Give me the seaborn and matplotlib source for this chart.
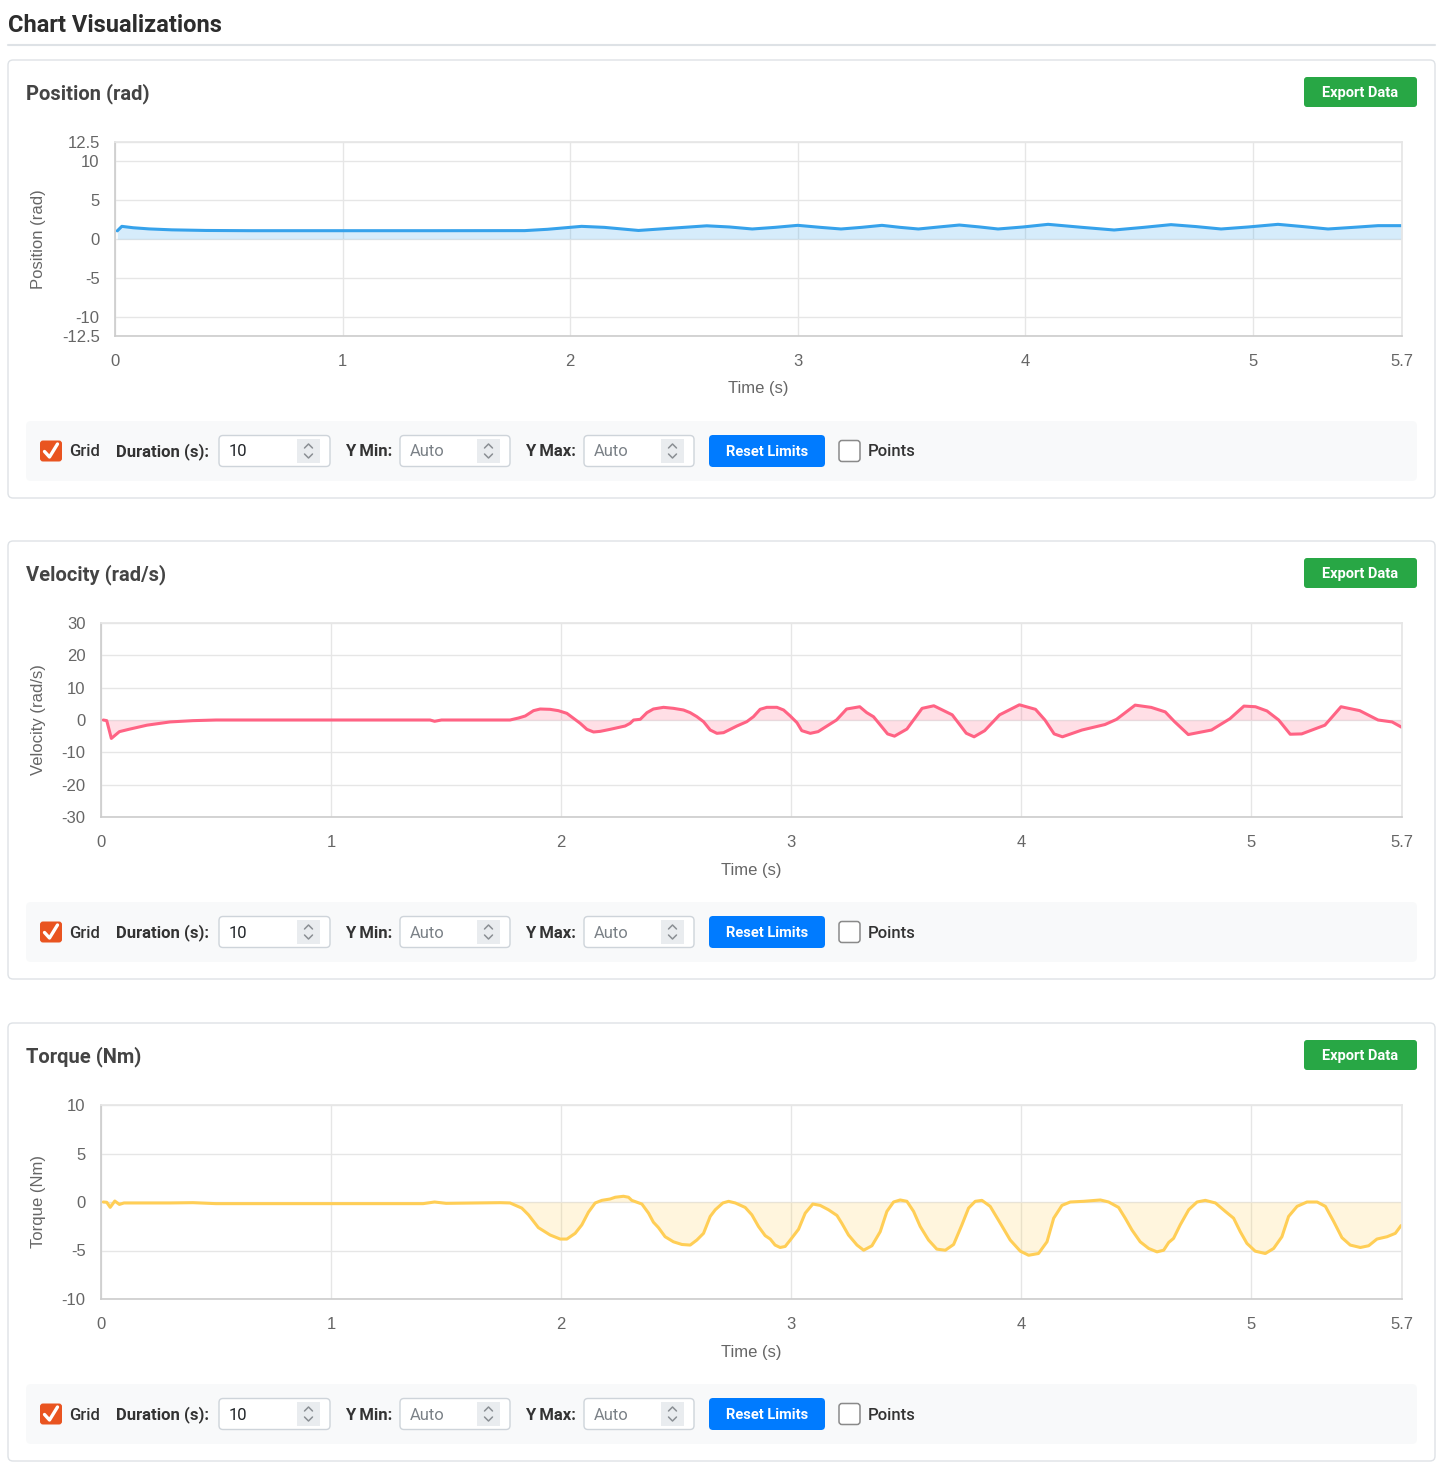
import matplotlib
matplotlib.use("Agg")
import matplotlib.pyplot as plt
from matplotlib.patches import FancyBboxPatch, Rectangle
import seaborn as sns

W, H = 1450, 1476

# ---- data ----
pos_time = [0.01, 0.03, 0.08, 0.15, 0.25, 0.4, 0.6, 1.0, 1.4, 1.8, 1.9, 2.05, 2.15, 2.3,
            2.45, 2.6, 2.7, 2.8, 2.9, 3.0, 3.1, 3.19, 3.28, 3.37, 3.45, 3.53, 3.62, 3.71,
            3.8, 3.88, 3.99, 4.1, 4.25, 4.39, 4.52, 4.64, 4.75, 4.86, 4.98, 5.11, 5.22,
            5.33, 5.44, 5.55, 5.655]
pos_val = [1.05, 1.63, 1.45, 1.3, 1.18, 1.1, 1.07, 1.07, 1.07, 1.08, 1.25, 1.63, 1.5, 1.1,
           1.4, 1.7, 1.55, 1.29, 1.5, 1.76, 1.5, 1.29, 1.5, 1.76, 1.5, 1.29, 1.55, 1.8,
           1.55, 1.29, 1.55, 1.89, 1.5, 1.16, 1.5, 1.85, 1.6, 1.29, 1.55, 1.89, 1.6,
           1.29, 1.5, 1.72, 1.72]

vel_time = [0.01, 0.025, 0.045, 0.08, 0.12, 0.2, 0.3, 0.4, 0.5, 1.0, 1.43, 1.45, 1.48,
            1.735, 1.778, 1.815, 1.844, 1.88, 1.909, 1.952, 1.988, 2.025, 2.054, 2.083,
            2.112, 2.141, 2.17, 2.213, 2.278, 2.3, 2.315, 2.344, 2.373, 2.401, 2.445,
            2.488, 2.532, 2.561, 2.59, 2.619, 2.648, 2.677, 2.706, 2.764, 2.807, 2.836,
            2.865, 2.894, 2.938, 2.967, 2.996, 3.025, 3.046, 3.083,
            3.117, 3.197, 3.241, 3.298, 3.328, 3.358, 3.419, 3.449, 3.503, 3.569, 3.62,
            3.7, 3.761, 3.795, 3.841, 3.906, 3.992, 4.062, 4.103, 4.143, 4.179, 4.264,
            4.364, 4.414, 4.495, 4.565, 4.626, 4.666, 4.726, 4.827, 4.907, 4.968, 5.018,
            5.068, 5.119, 5.169, 5.219, 5.32, 5.39, 5.471, 5.551, 5.612, 5.655]
vel_val = [0.0, -0.2, -5.7, -3.6, -2.9, -1.6, -0.6, -0.2, 0.0, 0.0, 0.0, -0.4, 0.0,
           0.0, 0.0, 0.62, 1.24, 2.89, 3.4, 3.3, 2.89, 2.06, 0.52, -1.03,
           -2.89, -3.71, -3.51, -2.89, -1.86, -1.03, 0.0, 0.21, 2.27, 3.4, 3.92,
           3.61, 3.09, 2.27, 1.03, -0.52, -3.09, -4.12, -3.92, -1.86, -0.52, 1.03,
           3.3, 3.92, 3.92, 3.09, 1.24, -0.82, -3.3, -4.12,
           -3.6, 0.0, 3.4, 4.1, 2.3, 1.0, -4.3, -5.0, -2.8, 3.6, 4.4,
           1.6, -4.1, -5.2, -3.3, 1.6, 4.7, 3.3, 0.0, -4.3, -5.2, -3.1,
           -1.4, 0.2, 4.6, 3.9, 2.5, -0.5, -4.5, -3.1, 0.4, 4.3, 4.1,
           2.8, 0.0, -4.4, -4.3, -1.6, 4.1, 2.9, 0.0, -0.6, -2.3]

trq_time = [0.01, 0.025, 0.04, 0.06, 0.08, 0.1, 0.3, 0.4, 0.5, 1.0, 1.4, 1.45, 1.5,
            1.735, 1.778, 1.829, 1.858, 1.901, 1.952, 1.996, 2.025, 2.061, 2.09, 2.119,
            2.148, 2.177, 2.213, 2.235, 2.271, 2.293, 2.307, 2.351, 2.38, 2.401, 2.423,
            2.452, 2.488, 2.525, 2.561, 2.59, 2.619, 2.648, 2.67, 2.703, 2.728, 2.757,
            2.8, 2.829, 2.858, 2.887, 2.909, 2.93, 2.952, 2.974, 2.996, 3.032,
            3.061, 3.094, 3.126, 3.162, 3.199, 3.22, 3.249, 3.286, 3.315, 3.351, 3.387,
            3.416, 3.445, 3.474, 3.503, 3.532, 3.561, 3.597, 3.633, 3.67, 3.706, 3.742,
            3.771, 3.8, 3.829, 3.865, 3.909, 3.952, 3.996, 4.032, 4.075, 4.112, 4.141,
            4.177, 4.213, 4.271, 4.344,
            4.38, 4.423, 4.452, 4.481, 4.517, 4.554, 4.59, 4.619, 4.641, 4.662, 4.691,
            4.728, 4.764, 4.8, 4.844, 4.887, 4.923, 4.952, 4.981, 5.017, 5.061, 5.097,
            5.133, 5.162, 5.199, 5.242, 5.286, 5.322, 5.358, 5.394, 5.43, 5.474, 5.51,
            5.546, 5.59, 5.626, 5.651]
trq_val = [0.0, -0.03, -0.55, 0.1, -0.25, -0.1, -0.1, -0.07, -0.17, -0.17, -0.17, 0.0, -0.14,
           -0.07, -0.1, -0.63, -1.32, -2.64, -3.4, -3.82, -3.82, -3.23, -2.36, -1.04,
           -0.1, 0.17, 0.31, 0.49, 0.59, 0.49, 0.17, -0.21, -1.15, -2.08, -2.64,
           -3.58, -4.1, -4.38, -4.44, -3.92, -3.23, -1.49, -0.8, -0.1, 0.07, -0.1,
           -0.56, -1.32, -2.53, -3.47, -3.82, -4.44, -4.69, -4.58, -3.92, -2.81,
           -1.15, -0.21, -0.35, -0.8, -1.39, -2.19, -3.4, -4.44, -4.97, -4.51, -3.06,
           -0.97, 0.0, 0.21, 0.07, -0.97, -2.53, -3.92, -4.86, -4.97, -4.38, -2.36,
           -0.63, 0.07, 0.17, -0.45, -2.19, -3.92, -5.07, -5.49, -5.31, -4.1, -1.67,
           -0.35, 0.0, 0.07, 0.21,
           0.0, -0.56, -1.67, -2.88, -4.1, -4.79, -5.14, -4.97, -4.17, -3.75, -2.36,
           -0.8, 0.0, 0.17, -0.1, -0.97, -1.67, -3.06, -4.27, -5.07, -5.31, -4.79,
           -3.58, -1.49, -0.45, 0.0, 0.0, -0.45, -2.01, -3.68, -4.44, -4.69, -4.51,
           -3.82, -3.58, -3.23, -2.43]

x_ticks = [0, 1, 2, 3, 4, 5, 5.655]
x_tick_labels = ["0", "1", "2", "3", "4", "5", "5.7"]

titles = ["Position (rad)", "Velocity (rad/s)", "Torque (Nm)"]
colors = ["#36a2eb", "#ff6384", "#ffce56"]
y_limits = [(-12.5, 12.5), (-30, 30), (-10, 10)]
y_ticks = [[-12.5, -10, -5, 0, 5, 10, 12.5],
           [-30, -20, -10, 0, 10, 20, 30],
           [-10, -5, 0, 5, 10]]
series = [(pos_time, pos_val), (vel_time, vel_val), (trq_time, trq_val)]
panel_tops = [60, 541, 1023]
plot_lefts = [115, 101, 101]

sns.set_theme(style="white")
plt.rcParams["font.family"] = ["Liberation Sans", "DejaVu Sans"]
plt.rcParams["axes.unicode_minus"] = False

fig = plt.figure(figsize=(W / 100, H / 100), dpi=100)
fig.patch.set_facecolor("white")

bg = fig.add_axes([0, 0, 1, 1], zorder=0)
bg.set_xlim(0, W)
bg.set_ylim(H, 0)
bg.axis("off")

HEAD = ["Roboto", "DejaVu Sans"]


def rbox(x0, y0, x1, y1, fc, ec="none", r=4, lw=1.0, z=1):
    bg.add_patch(FancyBboxPatch((x0, y0), x1 - x0, y1 - y0,
                                boxstyle=f"round,pad=0,rounding_size={r}",
                                fc=fc, ec=ec, lw=lw, zorder=z))


def spinner(x0, y0):
    bg.add_patch(Rectangle((x0, y0), 23, 24, fc="#e9ecef", ec="none", zorder=3))
    cx = x0 + 11.5
    bg.plot([cx - 4, cx, cx + 4], [y0 + 9, y0 + 5, y0 + 9], color="#8a8f94", lw=1.1, zorder=4)
    bg.plot([cx - 4, cx, cx + 4], [y0 + 15, y0 + 19, y0 + 15], color="#8a8f94", lw=1.1, zorder=4)


def controls(top):
    cy = top + 391
    ty = cy + 1
    rbox(26, top + 361, 1417, top + 421, "#f8f9fa", r=5)
    # grid checkbox (checked)
    rbox(40, cy - 10.5, 62, cy + 10.5, "#e95420", r=3, z=3)
    bg.plot([44.5, 49.5, 57.5], [cy + 0.5, cy + 6, cy - 7], color="white", lw=2.4,
            solid_capstyle="round", zorder=4)
    bg.text(69, ty, "Grid", family=HEAD, fontsize=12, color="#333333", va="center",
            weight="medium", zorder=4)
    bg.text(116, ty, "Duration (s):", family=HEAD, fontsize=12, color="#333333",
            va="center", weight="bold", zorder=4)
    for x0, x1, lx, label, txt, tc in [(219, 330, 0, None, "10", "#212529"),
                                       (400, 510, 345, "Y Min:", "Auto", "#7b8187"),
                                       (584, 694, 525, "Y Max:", "Auto", "#7b8187")]:
        rbox(x0, cy - 15.5, x1, cy + 15.5, "white", ec="#ced4da", r=4, z=2)
        spinner(x1 - 33, cy - 12)
        bg.text(x0 + 10, ty, txt, family=HEAD, fontsize=12, color=tc, va="center", zorder=4)
        if label:
            bg.text(lx, ty, label, family=HEAD, fontsize=12, color="#333333",
                    va="center", weight="bold", zorder=4)
    rbox(709, cy - 16, 825, cy + 16, "#007bff", r=4, z=2)
    bg.text(767, ty, "Reset Limits", family=HEAD, fontsize=10.5, color="white",
            va="center", ha="center", weight="bold", zorder=4)
    rbox(839, cy - 10.5, 860, cy + 10.5, "white", ec="#8a8a8a", r=3, z=3, lw=1.1)
    bg.text(868, ty, "Points", family=HEAD, fontsize=12, color="#333333", va="center",
            weight="medium", zorder=4)


# page heading
bg.text(8, 26, "Chart Visualizations", family=HEAD, fontsize=17, weight="bold",
        color="#2d2d2d", va="center")
bg.plot([8, 1435], [44.5, 44.5], color="#dee2e6", lw=1.5)

for i in range(3):
    top = panel_tops[i]
    left = plot_lefts[i]
    rbox(8, top, 1435, top + 438, "white", ec="#dee2e6", r=5, lw=1.0)
    bg.text(26, top + 34, titles[i], family=HEAD, fontsize=14.5, weight="bold",
            color="#444444", va="center")
    rbox(1304, top + 17, 1417, top + 47, "#28a745", r=3, z=2)
    bg.text(1360.5, top + 33, "Export Data", family=HEAD, fontsize=10.5, weight="bold",
            color="white", va="center", ha="center", zorder=3)
    controls(top)

    # chart area
    ay0, ay1 = top + 82, top + 276
    ax = fig.add_axes([left / W, 1 - ay1 / H, (1402 - left) / W, (ay1 - ay0) / H], zorder=2)
    t, v = series[i]
    ax.fill_between(t, v, 0, color=colors[i], alpha=0.2, lw=0)
    sns.lineplot(x=t, y=v, ax=ax, color=colors[i], lw=2.2)
    ax.set_xlim(0, 5.655)
    ax.set_ylim(*y_limits[i])
    ax.set_xticks(x_ticks)
    ax.set_xticklabels(x_tick_labels)
    ax.set_yticks(y_ticks[i])
    ax.set_yticklabels([f"{y:g}" for y in y_ticks[i]])
    ax.grid(True, color="#e6e6e6", lw=1)
    ax.tick_params(length=8, width=1, color="#e6e6e6", labelcolor="#666666",
                   labelsize=12, pad=3)
    ax.tick_params(axis="x", pad=5)
    for s in ["top", "right"]:
        ax.spines[s].set_color("#e6e6e6")
    for s in ["left", "bottom"]:
        ax.spines[s].set_color("#cccccc")
        ax.spines[s].set_linewidth(1.2)
    ax.set_xlabel("Time (s)", fontsize=12, color="#666666")
    ax.set_ylabel(titles[i], fontsize=12, color="#666666")
    w = 1402 - left
    ax.xaxis.set_label_coords(0.5, -(top + 329 - ay1) / (ay1 - ay0))
    ax.yaxis.set_label_coords(-(left - 39) / w, 0.5)
    ax.xaxis.label.set_va("center")
    ax.yaxis.label.set_va("center")

fig.savefig("out.png", dpi=100, facecolor="white")
